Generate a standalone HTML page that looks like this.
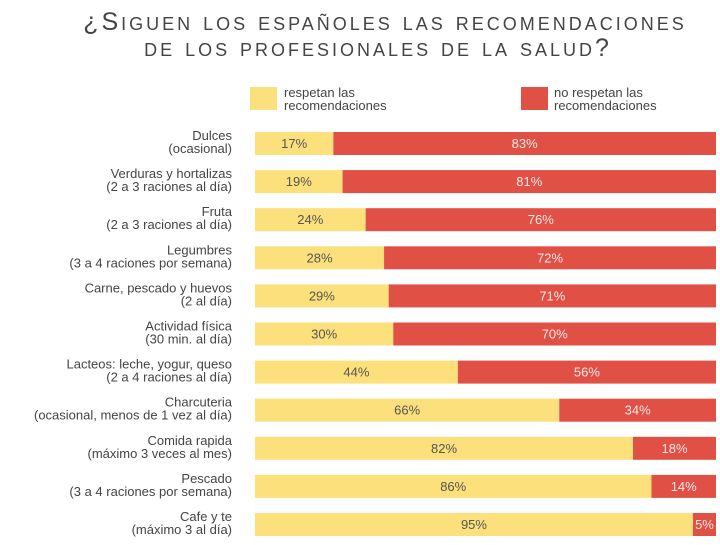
<!DOCTYPE html>
<html><head><meta charset="utf-8"><style>
body{margin:0;background:#fff;width:720px;height:540px;overflow:hidden;font-family:"Liberation Sans",sans-serif}
</style></head><body>
<svg id="c" width="720" height="540">
<text x="385" y="30" text-anchor="middle" font-size="25" fill="#444" style="font-variant:small-caps;letter-spacing:3px">¿Siguen los españoles las recomendaciones</text>
<text x="378" y="56" text-anchor="middle" font-size="25" fill="#444" style="font-variant:small-caps;letter-spacing:3px">de los profesionales de  la salud?</text>
<g>
<rect x="250" y="87" width="27" height="23" fill="#FBE07C"/>
<text x="284" y="97" font-size="13" fill="#444">respetan las</text>
<text x="284" y="110" font-size="13" fill="#444">recomendaciones</text>
<rect x="521" y="87" width="27" height="23" fill="#E05044"/>
<text x="554" y="97" font-size="13" fill="#444">no respetan las</text>
<text x="554" y="110" font-size="13" fill="#444">recomendaciones</text>
</g>
<g id="bars"></g>
</svg>
<script>
const categories=["Dulces","Verduras y hortalizas","Fruta","Legumbres","Carne, pescado y huevos","Actividad física","Lacteos: leche, yogur, queso","Charcuteria","Comida rapida","Pescado","Cafe y te"];
const subLabels=["(ocasional)","(2 a 3 raciones al día)","(2 a 3 raciones al día)","(3 a 4 raciones por semana)","(2 al día)","(30 min. al día)","(2 a 4 raciones al día)","(ocasional, menos de 1 vez al día)","(máximo 3 veces al mes)","(3 a 4 raciones por semana)","(máximo 3 al día)"];
const respetan=[17,19,24,28,29,30,44,66,82,86,95];
const noRespetan=[83,81,76,72,71,70,56,34,18,14,5];
const NS="http://www.w3.org/2000/svg",g=document.getElementById('bars');
const x0=255,W=461,y0=132,step=38.1,h=23;
const xs=v=>v/100*W;
function mk(t,a){const e=document.createElementNS(NS,t);for(const k in a)e.setAttribute(k,a[k]);g.appendChild(e);return e;}
categories.forEach((c,i)=>{
 const y=y0+i*step;
 const l1=mk('text',{x:232,y:y+8,'text-anchor':'end','font-size':13,fill:'#444'});l1.textContent=c;
 
 
 const l2=mk('text',{x:232,y:y+21,'text-anchor':'end','font-size':13,fill:'#444'});l2.textContent=subLabels[i];
 
 
 const w1=xs(respetan[i]),w2=xs(noRespetan[i]);
 const r1=mk('rect',{x:x0,y:y,width:w1,height:h,fill:'#FBE07C'});
 
 
 const r2=mk('rect',{x:x0+w1,y:y,width:w2,height:h,fill:'#E05044'});
 
 
 const t1=mk('text',{x:x0+w1/2,y:y+16,'text-anchor':'middle','font-size':13,fill:'#555'});t1.textContent=respetan[i]+'%';
 
 
 const t2=mk('text',{x:x0+w1+w2/2,y:y+16,'text-anchor':'middle','font-size':13,fill:'#fbe9e6'});t2.textContent=noRespetan[i]+'%';
 
 
});
</script>
</body></html>
